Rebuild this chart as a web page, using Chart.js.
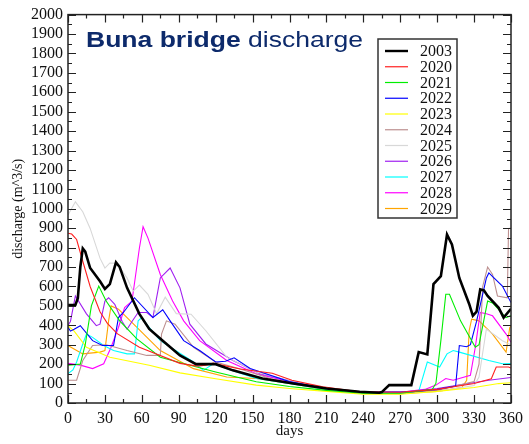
<!DOCTYPE html>
<html>
<head>
<meta charset="utf-8">
<script src="https://cdn.jsdelivr.net/npm/chart.js@4/dist/chart.umd.min.js"></script>
<style>
  html, body { margin: 0; padding: 0; background: #fff; }
  #wrap { width: 529px; height: 444px; }
</style>
</head>
<body>
<div id="wrap"><canvas id="chart" width="529" height="444"></canvas></div>
<script>
// Series: days and discharge (m^3/s)
const years = ['2003', '2020', '2021', '2022', '2023', '2024', '2025', '2026', '2027', '2028', '2029'];

const d2003 = [0, 6, 8, 10, 12, 14, 18, 26, 30, 34, 39, 42, 48, 58, 66, 77, 91, 104, 120, 134, 158, 183, 210, 237, 253, 255, 261, 279, 285, 292, 297, 303, 308, 312, 318, 326, 329, 332, 335, 338, 341, 350, 354, 360];
const q2003 = [505, 505, 540, 700, 796, 780, 695, 627, 587, 612, 724, 700, 593, 459, 381, 321, 245, 200, 200, 168, 126, 100, 75, 58, 53, 56, 92, 92, 262, 250, 612, 653, 867, 816, 644, 510, 449, 470, 585, 580, 551, 490, 440, 485];

const d2020 = [0, 3, 7, 12, 18, 26, 32, 40, 58, 91, 105, 112, 118, 125, 140, 166, 182, 207, 237, 270, 300, 330, 344, 348, 358, 360];
const q2020 = [874, 870, 842, 730, 600, 470, 410, 357, 287, 204, 190, 195, 205, 195, 175, 153, 117, 83, 58, 55, 70, 100, 125, 185, 185, 180];

const d2021 = [0, 10, 14, 19, 25, 31, 42, 56, 75, 90, 120, 153, 180, 210, 240, 270, 296, 299, 303, 307, 310, 319, 331, 334, 341, 345, 356, 360];
const q2021 = [194, 200, 300, 500, 602, 525, 423, 330, 236, 210, 160, 109, 85, 65, 50, 50, 70, 102, 321, 560, 560, 423, 287, 300, 525, 515, 440, 450];

const d2022 = [0, 2, 5, 10, 20, 28, 37, 41, 45, 54, 69, 77, 83, 94, 107, 120, 128, 135, 148, 180, 210, 240, 280, 300, 315, 318, 324, 327, 332, 340, 342, 353, 360];
const q2022 = [390, 370, 380, 398, 321, 296, 296, 440, 466, 542, 440, 480, 423, 321, 270, 211, 215, 233, 178, 110, 75, 55, 58, 70, 87, 296, 290, 300, 420, 644, 670, 602, 517];

const d2023 = [0, 5, 15, 34, 66, 91, 120, 153, 180, 210, 240, 270, 300, 330, 350, 360];
const q2023 = [398, 370, 287, 236, 194, 155, 125, 92, 75, 60, 45, 45, 60, 80, 100, 104];

const d2024 = [0, 7, 12, 20, 31, 48, 64, 75, 76, 80, 87, 102, 120, 140, 165, 180, 210, 240, 270, 300, 330, 334, 337, 341, 345, 349, 357, 358, 360];
const q2024 = [117, 117, 219, 296, 300, 270, 245, 245, 355, 423, 406, 287, 211, 175, 125, 105, 75, 52, 50, 65, 110, 200, 600, 700, 662, 551, 542, 899, 900];

const d2025 = [0, 6, 12, 18, 26, 30, 34, 40, 48, 53, 58, 65, 72, 79, 88, 100, 112, 129, 153, 180, 210, 240, 270, 300, 330, 334, 340, 353, 360];
const q2025 = [968, 1036, 985, 899, 746, 695, 721, 720, 644, 576, 607, 560, 460, 545, 460, 457, 372, 236, 160, 115, 80, 55, 50, 60, 90, 134, 381, 321, 300];

const d2026 = [0, 2, 6, 15, 23, 26, 30, 33, 38, 44, 48, 52, 57, 64, 69, 73, 75, 83, 91, 99, 112, 134, 156, 180, 210, 240, 270, 300, 329, 342, 360];
const q2026 = [400, 420, 551, 459, 398, 406, 525, 542, 508, 420, 380, 420, 466, 466, 440, 576, 644, 695, 593, 406, 304, 219, 151, 115, 75, 55, 55, 75, 104, 117, 131];

const d2027 = [0, 4, 7, 12, 15, 20, 29, 37, 48, 54, 57, 60, 66, 75, 102, 110, 118, 129, 153, 180, 210, 240, 270, 285, 292, 302, 308, 313, 318, 342, 353, 360];
const q2027 = [151, 170, 211, 304, 355, 338, 296, 270, 253, 253, 423, 440, 389, 321, 211, 168, 202, 177, 126, 100, 70, 52, 50, 60, 211, 185, 253, 270, 262, 219, 202, 203];

const d2028 = [0, 10, 20, 29, 35, 41, 46, 52, 58, 61, 65, 75, 85, 94, 107, 129, 153, 180, 210, 240, 270, 290, 299, 307, 313, 327, 331, 335, 340, 345, 356, 360];
const q2028 = [204, 195, 177, 202, 287, 389, 491, 525, 797, 908, 849, 662, 525, 423, 321, 219, 151, 110, 75, 55, 55, 70, 92, 126, 117, 143, 287, 466, 460, 449, 355, 313];

const d2029 = [0, 12, 26, 30, 33, 35, 41, 56, 75, 102, 129, 153, 180, 210, 240, 270, 300, 320, 324, 326, 328, 334, 345, 356, 359, 360];
const q2029 = [296, 253, 262, 270, 423, 500, 483, 389, 270, 177, 134, 126, 100, 70, 50, 48, 60, 80, 117, 372, 432, 423, 355, 262, 389, 395];

const dayArrays = [d2003, d2020, d2021, d2022, d2023, d2024, d2025, d2026, d2027, d2028, d2029];
const flowArrays = [q2003, q2020, q2021, q2022, q2023, q2024, q2025, q2026, q2027, q2028, q2029];
const colors = ['#000000', '#ff2020', '#00ee00', '#0000ff', '#ffff00', '#bc8f8f', '#d8d8d8', '#a020f0', '#00ffff', '#ff00ff', '#ffa500'];

// Axis ticks
const dayTicks = [0, 30, 60, 90, 120, 150, 180, 210, 240, 270, 300, 330, 360];
const flowTicks = [0, 100, 200, 300, 400, 500, 600, 700, 800, 900, 1000, 1100, 1200, 1300, 1400, 1500, 1600, 1700, 1800, 1900, 2000];

const datasets = years.map((yr, i) => ({
  label: yr,
  data: dayArrays[i].map((d, j) => ({ x: d, y: flowArrays[i][j] })),
  borderColor: colors[i],
  borderWidth: i === 0 ? 2.6 : 1.1,
  pointRadius: 0,
  tension: 0,
  fill: false
}));

// Frame and inward tick marks on all four sides
const frameTicks = {
  id: 'frameTicks',
  afterDraw(chart) {
    const { ctx, chartArea: a, scales: { x, y } } = chart;
    ctx.save();
    ctx.strokeStyle = '#222';
    ctx.lineWidth = 1.5;
    ctx.strokeRect(a.left, a.top, a.right - a.left, a.bottom - a.top);
    ctx.lineWidth = 1.2;
    ctx.beginPath();
    for (let d = dayTicks[0]; d <= dayTicks[dayTicks.length - 1]; d += 15) {
      const px = Math.round(x.getPixelForValue(d)) + 0.5;
      const len = d % 30 === 0 ? 8 : 4;
      ctx.moveTo(px, a.bottom); ctx.lineTo(px, a.bottom - len);
      ctx.moveTo(px, a.top); ctx.lineTo(px, a.top + len);
    }
    for (let v = flowTicks[0]; v <= flowTicks[flowTicks.length - 1]; v += 50) {
      const py = Math.round(y.getPixelForValue(v)) + 0.5;
      const len = v % 100 === 0 ? 8 : 4;
      ctx.moveTo(a.left, py); ctx.lineTo(a.left + len, py);
      ctx.moveTo(a.right, py); ctx.lineTo(a.right - len, py);
    }
    ctx.stroke();
    ctx.restore();
  }
};

// Title with bold and normal parts
const titlePlugin = {
  id: 'titlePlugin',
  afterDraw(chart) {
    const ctx = chart.ctx;
    ctx.save();
    ctx.fillStyle = '#0d2a6b';
    ctx.textBaseline = 'alphabetic';
    const bold = 'bold 22px "Liberation Sans", Arial, sans-serif';
    const norm = '22px "Liberation Sans", Arial, sans-serif';
    ctx.font = bold;
    const w1 = ctx.measureText('Buna bridge ').width;
    ctx.font = norm;
    const w2 = ctx.measureText('discharge').width;
    const sx = (363 - 86) / (w1 + w2);
    ctx.translate(86, 47);
    ctx.scale(sx, 1);
    ctx.font = bold;
    ctx.fillText('Buna bridge ', 0, 0);
    ctx.font = norm;
    ctx.fillText('discharge', w1, 0);
    ctx.restore();
  }
};

// Boxed legend in the upper right
const legendBox = {
  id: 'legendBox',
  afterDraw(chart) {
    const ctx = chart.ctx;
    const left = 378, top = 39, w = 79, h = 179, row = 15.75;
    ctx.save();
    ctx.fillStyle = '#fff';
    ctx.fillRect(left, top, w, h);
    ctx.strokeStyle = '#333';
    ctx.lineWidth = 1.5;
    ctx.strokeRect(left, top, w, h);
    ctx.font = '16px "Liberation Serif", "Times New Roman", serif';
    ctx.textBaseline = 'middle';
    chart.data.datasets.forEach((ds, i) => {
      const cy = top + 12 + i * row;
      ctx.strokeStyle = ds.borderColor;
      ctx.lineWidth = i === 0 ? 2.4 : 1.2;
      ctx.beginPath();
      ctx.moveTo(left + 7, cy);
      ctx.lineTo(left + 30, cy);
      ctx.stroke();
      ctx.fillStyle = '#111';
      ctx.fillText(ds.label, left + 42, cy + 1);
    });
    ctx.restore();
  }
};

const serif = '"Liberation Serif", "Times New Roman", serif';

new Chart(document.getElementById('chart'), {
  type: 'line',
  data: { datasets },
  options: {
    responsive: false,
    animation: false,
    layout: { padding: { top: 11, right: 17, left: 0, bottom: 0 } },
    plugins: { legend: { display: false }, tooltip: { enabled: false } },
    scales: {
      x: {
        type: 'linear',
        min: 0,
        max: 360,
        grid: { display: false, drawTicks: false },
        border: { display: false },
        ticks: {
          stepSize: 30,
          padding: 6,
          color: '#111',
          font: { family: serif, size: 16 },
          maxRotation: 0,
          autoSkip: false,
          callback: (v) => String(v)
        },
        title: {
          display: true,
          text: 'days',
          color: '#111',
          font: { family: serif, size: 15 },
          padding: { top: 0, bottom: 4 }
        },
        afterFit: (s) => { s.height = 41; }
      },
      y: {
        min: 0,
        max: 2000,
        grid: { display: false, drawTicks: false },
        border: { display: false },
        ticks: {
          stepSize: 100,
          padding: 5,
          color: '#111',
          font: { family: serif, size: 16 },
          autoSkip: false,
          callback: (v) => String(v)
        },
        title: {
          display: true,
          text: 'discharge (m^3/s)',
          color: '#111',
          font: { family: serif, size: 14 },
          padding: { top: 10, bottom: 0 }
        },
        afterFit: (s) => { s.width = 68; }
      }
    }
  },
  plugins: [frameTicks, titlePlugin, legendBox]
});
</script>
</body>
</html>
